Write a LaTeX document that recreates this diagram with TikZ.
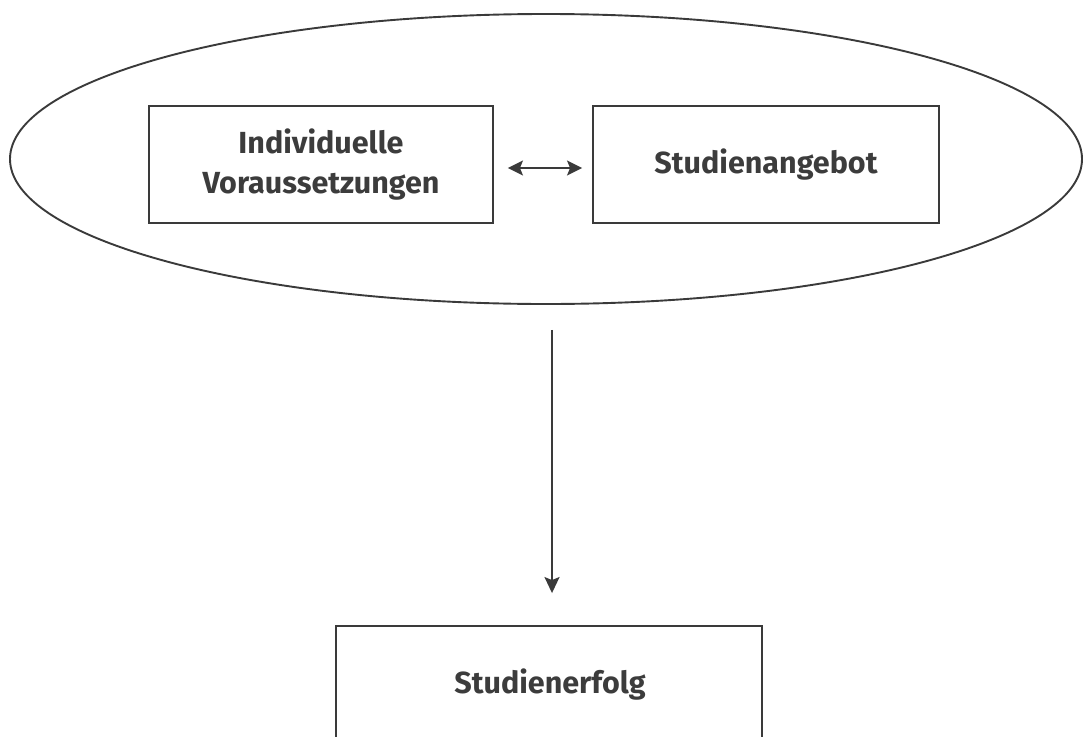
\documentclass[tikz,border=0pt]{standalone}
\usepackage{fontspec}
\setmainfont{Fira Sans}
\usetikzlibrary{arrows.meta,shapes.geometric}
\definecolor{ink}{HTML}{3A3A3A}
\definecolor{txt}{HTML}{3C3C3C}
\tikzset{
  x=1pt, y=-1pt,
  line/.style={draw=ink, line width=1.9pt},
  blockbox/.style={line, rectangle, inner sep=0pt, align=center,
    font=\fontsize{30.5}{40}\selectfont\bfseries, text=txt},
  label/.style={font=\fontsize{30.5}{40}\selectfont\bfseries, text=txt, inner sep=0pt},
  conn/.style={draw=ink, line width=2pt, -{Stealth[length=16pt,width=15pt,inset=3pt]}},
  dconn/.style={draw=ink, line width=2pt, {Stealth[length=15pt,width=15pt,inset=3pt]}-{Stealth[length=15pt,width=15pt,inset=3pt]}}
}
\begin{document}
\begin{tikzpicture}
\useasboundingbox (0,0) rectangle (1083,736);
\clip (0,0) rectangle (1083,736);
\node[line, ellipse, minimum width=1072pt, minimum height=290pt, inner sep=0pt] (E) at (546,159) {};
\node[blockbox, minimum width=344pt, minimum height=117pt] (L) at (321,164.5) {Individuelle\\Voraussetzungen};
\node[blockbox, minimum width=346pt, minimum height=117pt] (R) at (766,164.5) {Studienangebot};
\node[line, rectangle, minimum width=426pt, minimum height=140pt, inner sep=0pt] (B) at (549,696) {};
\node[label, anchor=base] (T) at (550,693) {Studienerfolg};
\draw[dconn] ([xshift=14pt,yshift=-3.5pt]L.east) -- ([xshift=-10pt,yshift=-3.5pt]R.west);
\draw[conn] ([xshift=6pt,yshift=-25pt]E.south) -- ([xshift=3pt,yshift=32pt]B.north);
\end{tikzpicture}
\end{document}
